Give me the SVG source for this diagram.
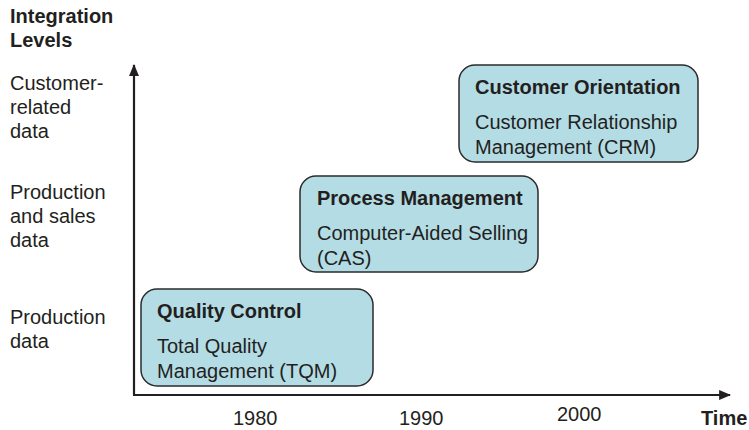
<svg xmlns="http://www.w3.org/2000/svg" width="749" height="430" viewBox="0 0 749 430">
<defs>
<style>
text{font-family:"Liberation Sans",Arial,sans-serif;font-size:20px;fill:#231f20}
.b{font-weight:bold}
.box{fill:#b4dce5;stroke:#2b2b2b;stroke-width:1.5}
.axis{stroke:#231f20;stroke-width:2.2;fill:none}
</style>
<marker id="ah" viewBox="0 0 12 10" refX="11" refY="5" markerWidth="5.5" markerHeight="4.5" orient="auto" markerUnits="strokeWidth">
<path d="M0,0 L12,5 L0,10 z" fill="#231f20"/>
</marker>
</defs>
<rect width="749" height="430" fill="#fff"/>
<g id="ylabels">
<text class="b" x="10" y="23">Integration</text>
<text class="b" x="10" y="47">Levels</text>
<text x="10" y="90">Customer-</text>
<text x="10" y="114">related</text>
<text x="10" y="138">data</text>
<text x="10" y="199">Production</text>
<text x="10" y="223">and sales</text>
<text x="10" y="247">data</text>
<text x="10" y="324">Production</text>
<text x="10" y="348">data</text>
</g>
<g id="connectors">
<path class="axis" d="M134,395 V65" marker-end="url(#ah)"/>
<path class="axis" d="M133,395 H730" marker-end="url(#ah)"/>
</g>
<g id="xlabels">
<text x="233" y="425">1980</text>
<text x="399" y="425">1990</text>
<text x="557" y="421">2000</text>
<text class="b" x="701" y="425">Time</text>
</g>
<g id="quality">
<rect class="box" x="141" y="289" width="232" height="97" rx="16"/>
<text class="b" x="157" y="318">Quality Control</text>
<text x="157" y="353">Total Quality</text>
<text x="157" y="378">Management (TQM)</text>
</g>
<g id="process">
<rect class="box" x="300" y="176" width="238" height="96" rx="16"/>
<text class="b" x="317" y="205">Process Management</text>
<text x="317" y="240">Computer-Aided Selling</text>
<text x="317" y="265">(CAS)</text>
</g>
<g id="customer">
<rect class="box" x="459" y="65" width="239" height="97" rx="16"/>
<text class="b" x="475" y="94">Customer Orientation</text>
<text x="475" y="129">Customer Relationship</text>
<text x="475" y="154">Management (CRM)</text>
</g>
</svg>
